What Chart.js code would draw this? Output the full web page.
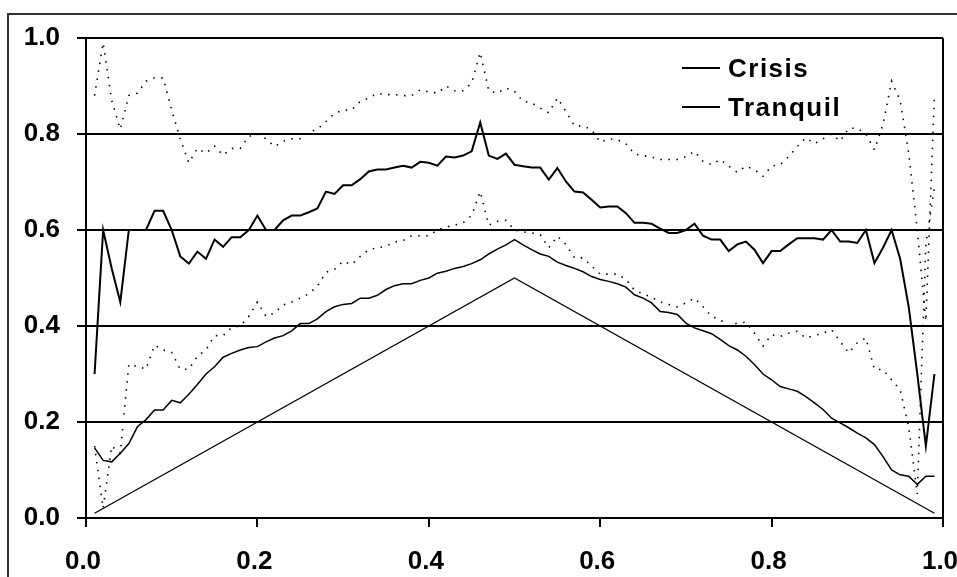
<!DOCTYPE html>
<html>
<head>
<meta charset="utf-8">
<script src="https://cdn.jsdelivr.net/npm/chart.js@4.4.1/dist/chart.umd.min.js"></script>
<style>
html, body { margin: 0; padding: 0; background: #fff; }
</style>
</head>
<body>
<canvas id="canvas" width="957" height="577"></canvas>
<script>
// x positions of the estimates
const xValues = [
  0.01,0.02,0.03,0.04,0.05,0.06,0.07,0.08,0.09,0.10,
  0.11,0.12,0.13,0.14,0.15,0.16,0.17,0.18,0.19,0.20,
  0.21,0.22,0.23,0.24,0.25,0.26,0.27,0.28,0.29,0.30,
  0.31,0.32,0.33,0.34,0.35,0.36,0.37,0.38,0.39,0.40,
  0.41,0.42,0.43,0.44,0.45,0.46,0.47,0.48,0.49,0.50,
  0.51,0.52,0.53,0.54,0.55,0.56,0.57,0.58,0.59,0.60,
  0.61,0.62,0.63,0.64,0.65,0.66,0.67,0.68,0.69,0.70,
  0.71,0.72,0.73,0.74,0.75,0.76,0.77,0.78,0.79,0.80,
  0.81,0.82,0.83,0.84,0.85,0.86,0.87,0.88,0.89,0.90,
  0.91,0.92,0.93,0.94,0.95,0.96,0.97,0.98,0.99
];

const crisis = [
  0.30,0.60,0.52,0.45,0.60,0.60,0.60,0.64,0.64,0.60,
  0.545,0.53,0.555,0.54,0.58,0.565,0.585,0.585,0.60,0.63,
  0.60,0.60,0.62,0.63,0.63,0.637,0.645,0.68,0.675,0.693,
  0.693,0.706,0.722,0.726,0.726,0.73,0.734,0.73,0.742,0.74,
  0.734,0.753,0.751,0.755,0.764,0.824,0.755,0.748,0.759,0.736,
  0.733,0.73,0.73,0.705,0.729,0.701,0.68,0.678,0.663,0.647,
  0.649,0.649,0.635,0.615,0.615,0.613,0.603,0.594,0.594,0.60,
  0.613,0.588,0.58,0.58,0.556,0.57,0.576,0.559,0.531,0.556,
  0.556,0.57,0.583,0.583,0.583,0.58,0.60,0.576,0.576,0.573,
  0.60,0.531,0.563,0.60,0.54,0.44,0.30,0.15,0.30
];

const crisisUpper = [
  0.88,0.99,0.87,0.81,0.88,0.885,0.91,0.917,0.917,0.85,
  0.79,0.74,0.77,0.76,0.775,0.756,0.77,0.77,0.795,0.80,
  0.79,0.774,0.785,0.79,0.79,0.804,0.81,0.826,0.843,0.85,
  0.85,0.868,0.875,0.885,0.882,0.882,0.88,0.88,0.892,0.888,
  0.885,0.90,0.89,0.89,0.906,0.97,0.89,0.885,0.896,0.889,
  0.868,0.865,0.854,0.844,0.875,0.847,0.817,0.817,0.809,0.783,
  0.79,0.788,0.78,0.758,0.755,0.752,0.747,0.747,0.747,0.753,
  0.764,0.743,0.736,0.747,0.733,0.72,0.733,0.726,0.712,0.733,
  0.736,0.753,0.774,0.792,0.78,0.79,0.80,0.785,0.812,0.812,
  0.80,0.767,0.82,0.91,0.87,0.76,0.60,0.41,0.88
];

const crisisLower = [
  0.15,0.02,0.15,0.135,0.32,0.316,0.31,0.36,0.35,0.345,
  0.31,0.31,0.337,0.35,0.38,0.38,0.397,0.40,0.42,0.45,
  0.42,0.427,0.444,0.45,0.458,0.467,0.483,0.512,0.518,0.535,
  0.528,0.545,0.559,0.563,0.566,0.575,0.578,0.588,0.588,0.588,
  0.60,0.606,0.61,0.615,0.63,0.68,0.61,0.618,0.62,0.60,
  0.596,0.594,0.59,0.563,0.587,0.57,0.542,0.542,0.525,0.508,
  0.508,0.508,0.497,0.475,0.467,0.46,0.45,0.445,0.44,0.448,
  0.458,0.44,0.42,0.413,0.40,0.406,0.408,0.385,0.358,0.382,
  0.378,0.385,0.389,0.375,0.38,0.385,0.392,0.368,0.344,0.365,
  0.375,0.31,0.309,0.288,0.267,0.19,0.05,0.57,0.69
];

const tranquil = [
  0.146,0.12,0.117,0.135,0.155,0.19,0.205,0.225,0.225,0.245,
  0.24,0.258,0.278,0.30,0.315,0.335,0.343,0.35,0.355,0.357,
  0.367,0.375,0.38,0.39,0.405,0.405,0.415,0.43,0.44,0.445,
  0.447,0.458,0.458,0.464,0.476,0.484,0.488,0.488,0.495,0.50,
  0.51,0.514,0.52,0.524,0.53,0.538,0.55,0.56,0.569,0.58,
  0.569,0.559,0.55,0.545,0.533,0.526,0.52,0.513,0.503,0.497,
  0.493,0.488,0.481,0.465,0.458,0.448,0.43,0.428,0.424,0.406,
  0.396,0.39,0.384,0.372,0.359,0.35,0.337,0.32,0.30,0.288,
  0.274,0.269,0.264,0.253,0.24,0.226,0.208,0.198,0.188,0.177,
  0.167,0.153,0.128,0.10,0.09,0.087,0.07,0.087,0.087
];

// reference diagonal
const diagX = [0.01, 0.50, 0.99];
const diagY = [0.01, 0.50, 0.01];

const legendNames = ['Crisis', 'Tranquil'];

function toPoints(xs, ys){
    return xs.map((x, i) => ({x: x, y: ys[i]}));
}

const insideLegend = {
    id: 'insideLegend',
    afterDraw(chart){
        const c = chart.ctx;
        const area = chart.chartArea;
        c.save();
        // outer frame of the picture
        c.strokeStyle = '#333';
        c.lineWidth = 2;
        c.strokeRect(8, 14, 960, 620);
        // right edge of the plot box
        c.strokeStyle = '#000';
        c.beginPath();
        c.moveTo(area.right, area.top);
        c.lineTo(area.right, area.bottom);
        c.stroke();
        // legend
        c.font = 'bold 26px "Liberation Sans"';
        c.letterSpacing = '1.5px';
        c.fillStyle = '#000';
        c.textBaseline = 'alphabetic';
        legendNames.forEach((name, i) => {
            const y = area.top + 30 + i * 39;
            c.beginPath();
            c.moveTo(area.right - 261, y);
            c.lineTo(area.right - 223, y);
            c.stroke();
            c.fillText(name, area.right - 215, y + 9);
        });
        c.restore();
    }
};

const tickFont = {family: 'Liberation Sans', weight: 'bold', size: 26};

const ctx = document.getElementById('canvas').getContext('2d');
const myChart = new Chart(ctx, {
    type: 'line',
    data: {
        datasets: [
            {
                label: 'diagonal',
                data: toPoints(diagX, diagY),
                borderColor: '#000',
                borderWidth: 1.3,
                pointRadius: 0
            },
            {
                label: 'Tranquil',
                data: toPoints(xValues, tranquil),
                borderColor: '#000',
                borderWidth: 1.5,
                pointRadius: 0
            },
            {
                label: 'Crisis upper',
                data: toPoints(xValues, crisisUpper),
                borderColor: '#000',
                borderWidth: 1.6,
                borderDash: [1.5, 6.5],
                pointRadius: 0
            },
            {
                label: 'Crisis lower',
                data: toPoints(xValues, crisisLower),
                borderColor: '#000',
                borderWidth: 1.6,
                borderDash: [1.5, 6.5],
                pointRadius: 0
            },
            {
                label: 'Crisis',
                data: toPoints(xValues, crisis),
                borderColor: '#000',
                borderWidth: 2,
                pointRadius: 0
            }
        ]
    },
    options: {
        responsive: false,
        animation: false,
        layout: {padding: {left: 8, top: 38, right: 14, bottom: 0}},
        plugins: {
            legend: {display: false},
            tooltip: {enabled: false}
        },
        scales: {
            x: {
                type: 'linear',
                min: 0,
                max: 1,
                ticks: {
                    stepSize: 0.2,
                    callback: v => v.toFixed(1),
                    font: tickFont,
                    color: '#000',
                    padding: 19,
                    maxRotation: 0,
                    labelOffset: -3
                },
                grid: {drawOnChartArea: false, drawTicks: true, tickLength: 9, color: '#000', lineWidth: 2},
                border: {display: true, color: '#000', width: 2},
                afterFit(scale){
                    scale.height = 59;
                    scale.paddingLeft = 0;
                    scale.paddingRight = 0;
                }
            },
            y: {
                min: 0,
                max: 1,
                ticks: {
                    stepSize: 0.2,
                    callback: v => v.toFixed(1),
                    font: tickFont,
                    color: '#000',
                    padding: 17
                },
                grid: {color: '#000', lineWidth: 2, tickLength: 9},
                border: {display: true, color: '#000', width: 2},
                afterFit(scale){
                    scale.width = 78;
                    scale.paddingTop = 0;
                    scale.paddingBottom = 0;
                }
            }
        }
    },
    plugins: [insideLegend]
});
</script>
</body>
</html>
